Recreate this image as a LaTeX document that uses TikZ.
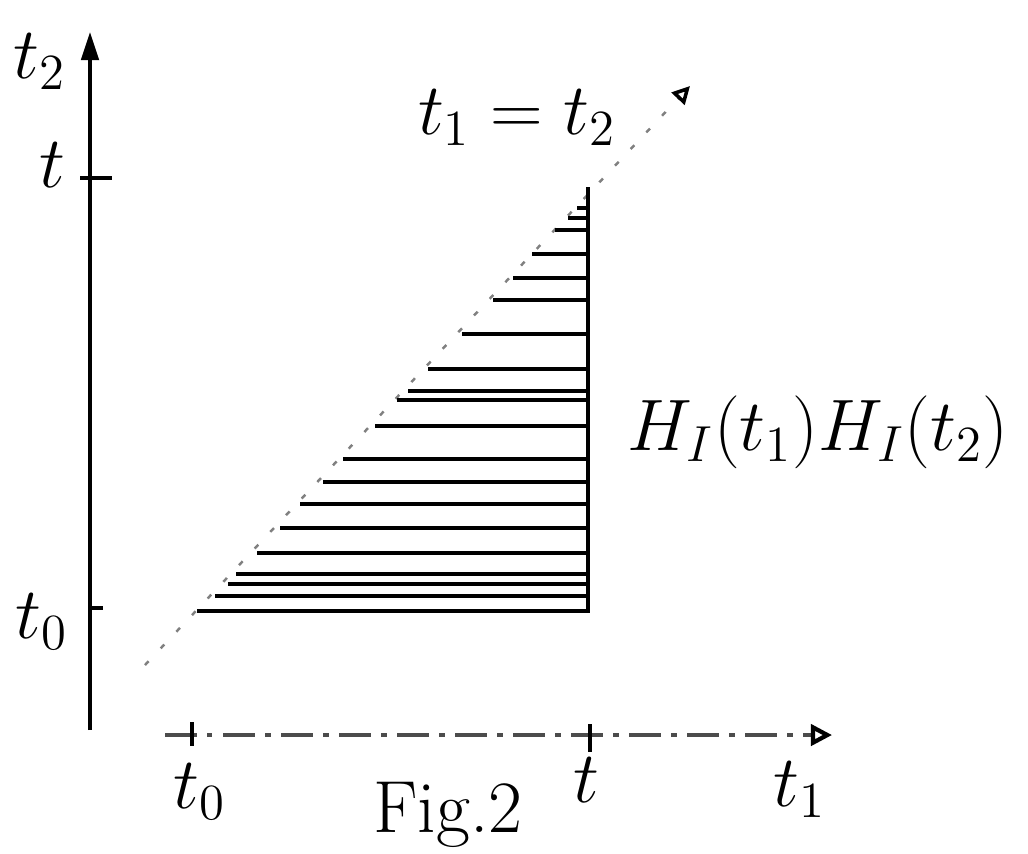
\documentclass[tikz,border=0pt]{standalone}
\usepackage{amsmath}
\usepackage{tikz}
\usetikzlibrary{arrows.meta}

\begin{document}
\begin{tikzpicture}[x=0.01cm,y=-0.01cm,
  axis/.style={line width=0.9pt},
  hatch/.style={line width=1pt},
  lab/.style={inner sep=1pt,font=\fontsize{21}{24}\selectfont},
  big/.style={inner sep=1pt,font=\fontsize{22}{26}\selectfont},
]
\useasboundingbox (0,0) rectangle (1028,853);
% vertical axis
\coordinate (ybot) at (90,730);
\coordinate (ytop) at (90,32);
\draw[axis,-{Triangle[length=8pt,width=5pt]}] (ybot) -- (ytop);
\coordinate (ytA) at (80,178);
\coordinate (ytB) at (112,178);
\draw[axis] (ytA) -- (ytB);
\coordinate (y0A) at (90,608);
\coordinate (y0B) at (103,608);
\draw[axis] (y0A) -- (y0B);
\node[lab] (t2lab) at (40,62) {$t_2$};
\node[lab] (tlab) at (52,165) {$t$};
\node[lab] (t0lab) at (42,622) {$t_0$};
% horizontal axis
\coordinate (xbeg) at (165,735);
\coordinate (xend) at (832,735);
\draw[axis,gray!60!black,dash pattern=on 9pt off 3pt on 1.5pt off 3pt,
  -{Triangle[open,length=6pt,width=6pt,black,line width=1.2pt]}] (xbeg) -- (xend);
\coordinate (x0A) at (192,722);
\coordinate (x0B) at (192,746);
\draw[axis] (x0A) -- (x0B);
\coordinate (xtA) at (590,724);
\coordinate (xtB) at (590,752);
\draw[axis] (xtA) -- (xtB);
\node[lab] (x0lab) at (200,792) {$t_0$};
\node[lab] (xtlab) at (586,780) {$t$};
\node[lab] (t1lab) at (800,790) {$t_1$};
\node[lab] (fig) at (448,815) {Fig.2};
% diagonal t1 = t2
\coordinate (dbeg) at (145,665);
\coordinate (dend) at (690,86);
\draw[gray,line width=0.7pt,dash pattern=on 1.5pt off 5pt,
  -{Triangle[open,length=5pt,width=5pt,black,line width=1pt]}] (dbeg) -- (dend);
\node[lab] (diag) at (517,118) {$t_1 = t_2$};
% region
\coordinate (rtop) at (588,187);
\coordinate (rbot) at (588,613);
\draw[hatch] (rtop) -- (rbot);
\foreach \y/\x in {208/577,218/568,230/555,254/532,278/513,300/493,334/462,
  369/428,391/408,400/397,426/375,459/343,482/323,504/300,528/280,553/257,
  574/236,584/228,596/215,611/197}
  \draw[hatch] (\x,\y) -- (588,\y);
\node[big] (hh) at (818,432) {$H_I(t_1)H_I(t_2)$};
\end{tikzpicture}
\end{document}
